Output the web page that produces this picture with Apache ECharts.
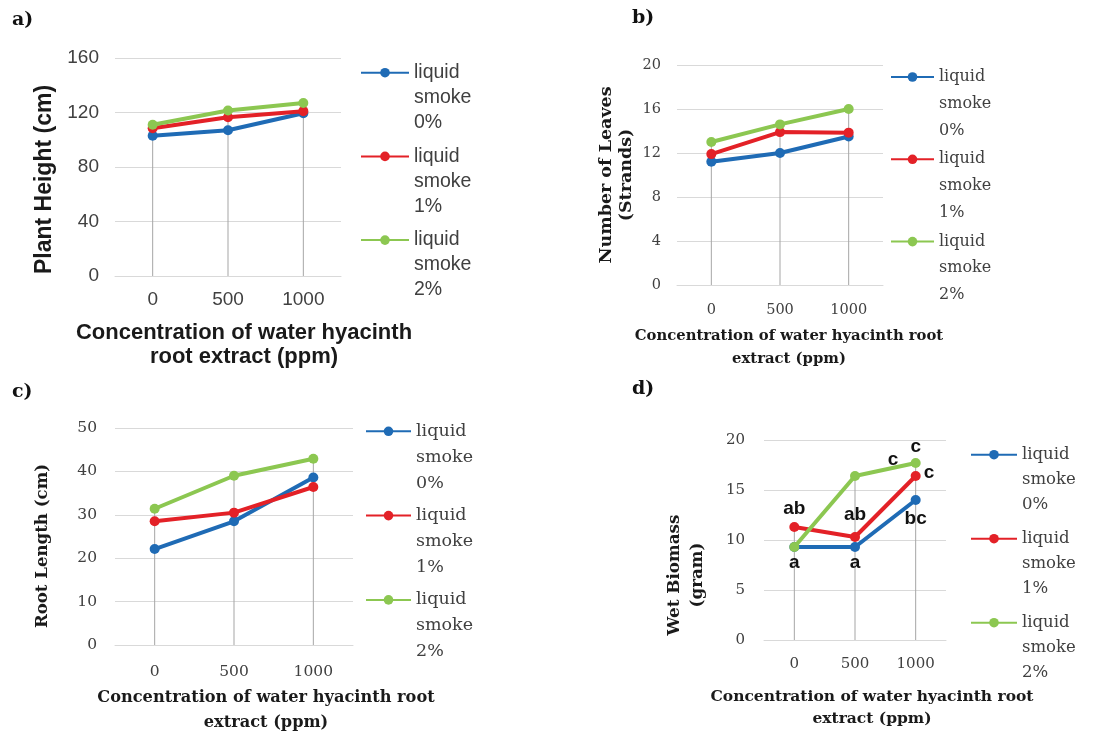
<!DOCTYPE html>
<html><head><meta charset="utf-8">
<script src="https://cdn.jsdelivr.net/npm/echarts@6/dist/echarts.min.js"></script>
<style>html,body{margin:0;padding:0;background:#fff}#c{width:1106px;height:736px}</style>
</head><body><div id="c"></div>
<script>
// ---- data ----
const categories = ['0', '500', '1000'];
const seriesNames = ['liquid smoke 0%', 'liquid smoke 1%', 'liquid smoke 2%'];
const panelLetters = ['a)', 'b)', 'c)', 'd)'];

// a) Plant height (cm)
const heightSmoke0 = [103, 107, 119.5];
const heightSmoke1 = [108.5, 116.5, 121];
const heightSmoke2 = [111, 121.5, 127];
// b) Number of leaves (strands)
const leavesSmoke0 = [11.2, 12.0, 13.5];
const leavesSmoke1 = [11.9, 13.9, 13.85];
const leavesSmoke2 = [13.0, 14.6, 16.0];
// c) Root length (cm)
const rootSmoke0 = [22.1, 28.5, 38.6];
const rootSmoke1 = [28.5, 30.5, 36.4];
const rootSmoke2 = [31.4, 39.0, 42.9];
// d) Wet biomass (gram)
const biomassSmoke0 = [9.3, 9.3, 14.0];
const biomassSmoke1 = [11.3, 10.3, 16.4];
const biomassSmoke2 = [9.3, 16.4, 17.7];
const biomassLetters0 = ['a', 'a', 'bc'];
const biomassLetters1 = ['ab', 'ab', 'c'];
const biomassLetters2 = ['', 'c', 'c'];

const xTitleA = 'Concentration of water hyacinth\nroot extract (ppm)';
const xTitleB = 'Concentration of water hyacinth root\nextract (ppm)';

// ---- styling / layout ----
const colors = ['#1f6bb5', '#e32127', '#8cc751'];
const SERIF = 'DejaVu Serif';
const SANS = 'Liberation Sans';

const panels = [
  { data: [heightSmoke0, heightSmoke1, heightSmoke2], yMax: 160, yInterval: 40,
    yTitle: 'Plant Height (cm)', xTitle: xTitleA,
    grid: { left: 115, top: 58, width: 226, height: 218 },
    font: SANS, tick: 19, xLabelMargin: 14, yLabelMargin: 16,
    xT: { size: 22, lh: 24, gap: 45, pad: 32 }, yT: { size: 23, lh: 24, gap: 58, pad: 25 },
    lg: { left: 360, first: 72.7, itemWidth: 48, size: 19.5, lh: 25, spacing: 83.7 },
    title: { left: 12, top: 11 } },
  { data: [leavesSmoke0, leavesSmoke1, leavesSmoke2], yMax: 20, yInterval: 4,
    yTitle: 'Number of Leaves\n(Strands)', xTitle: xTitleB,
    grid: { left: 677, top: 65, width: 206, height: 220 },
    font: SERIF, tick: 14.5, xLabelMargin: 18, yLabelMargin: 16,
    xT: { size: 14.8, lh: 23, gap: 40, pad: 18 }, yT: { size: 17.5, lh: 20, gap: 41, pad: 0 },
    lg: { left: 890, first: 77, itemWidth: 43, size: 16, lh: 26.7, spacing: 82.3 },
    title: { left: 632, top: 9 } },
  { data: [rootSmoke0, rootSmoke1, rootSmoke2], yMax: 50, yInterval: 10,
    yTitle: 'Root Length (cm)', xTitle: xTitleB,
    grid: { left: 115, top: 428, width: 238, height: 217 },
    font: SERIF, tick: 15.5, xLabelMargin: 19, yLabelMargin: 18,
    xT: { size: 16.2, lh: 25, gap: 40, pad: 64 }, yT: { size: 16.6, lh: 20, gap: 62, pad: 19 },
    lg: { left: 365, first: 431.3, itemWidth: 45, size: 17.5, lh: 25.9, spacing: 84.3 },
    title: { left: 12, top: 383 } },
  { data: [biomassSmoke0, biomassSmoke1, biomassSmoke2], yMax: 20, yInterval: 5,
    yTitle: 'Wet Biomass\n(gram)', xTitle: xTitleB,
    grid: { left: 764, top: 440, width: 182, height: 200 },
    font: SERIF, tick: 15, xLabelMargin: 17, yLabelMargin: 19,
    xT: { size: 15.5, lh: 22, gap: 46, pad: 34 }, yT: { size: 16.8, lh: 23, gap: 55, pad: 70 },
    lg: { left: 970, first: 454.7, itemWidth: 46, size: 16.5, lh: 25, spacing: 84 },
    title: { left: 632, top: 380 },
    letters: [biomassLetters0, biomassLetters1, biomassLetters2] }
];

// label placement for the letters in panel d (per series, per category)
const letterPlacement = [
  [{ position: 'bottom', distance: 1 }, { position: 'bottom', distance: 1 }, { position: 'bottom', distance: 4 }],
  [{ position: 'top', distance: 4 }, { position: 'top', distance: 8 }, { position: 'right', distance: 3, offset: [0, -3] }],
  [null, { position: 'top', distance: 5, offset: [38, 3] }, { position: 'top', distance: 2 }]
];

const option = {
  backgroundColor: '#ffffff',
  animation: false,
  title: [], grid: [], xAxis: [], yAxis: [], legend: [], series: []
};

panels.forEach((p, i) => {
  option.title.push({
    text: panelLetters[i], left: p.title.left, top: p.title.top, padding: 0,
    textStyle: { fontFamily: SERIF, fontWeight: 'bold', fontSize: 19, color: '#111' }
  });
  option.grid.push(Object.assign({ containLabel: false }, p.grid));
  option.xAxis.push({
    type: 'category', gridIndex: i, data: categories, boundaryGap: true,
    axisTick: { show: false },
    axisLine: { show: true, lineStyle: { color: '#d9d9d9', width: 1 } },
    axisLabel: { fontFamily: p.font, fontSize: p.tick, color: '#404040', margin: p.xLabelMargin },
    name: p.xTitle, nameLocation: 'middle', nameGap: p.xT.gap,
    nameTextStyle: { fontFamily: p.font, fontWeight: 'bold', fontSize: p.xT.size, lineHeight: p.xT.lh,
      color: '#1a1a1a', padding: [0, 0, 0, p.xT.pad] }
  });
  option.yAxis.push({
    type: 'value', gridIndex: i, min: 0, max: p.yMax, interval: p.yInterval,
    axisLine: { show: false }, axisTick: { show: false },
    splitLine: { show: true, lineStyle: { color: '#d9d9d9', width: 1 } },
    axisLabel: { fontFamily: p.font, fontSize: p.tick, color: '#404040', margin: p.yLabelMargin },
    name: p.yTitle, nameLocation: 'middle', nameGap: p.yT.gap,
    nameTextStyle: { fontFamily: p.font, fontWeight: 'bold', fontSize: p.yT.size, lineHeight: p.yT.lh,
      color: '#1a1a1a', padding: [0, p.yT.pad, 0, 0] }
  });
  const lg = p.lg;
  option.legend.push({
    orient: 'vertical', left: lg.left, top: lg.first - 2.5 * lg.lh, padding: 0,
    itemWidth: lg.itemWidth, itemHeight: 12, itemGap: lg.spacing - 5 * lg.lh,
    data: seriesNames, selectedMode: false,
    // two empty leading lines so the icon sits level with the first text line
    formatter: n => '\n\n' + n.split(' ').join('\n'),
    textStyle: { fontFamily: p.font, fontSize: lg.size, lineHeight: lg.lh, color: '#404040' }
  });
  // drop lines: from axis up to the highest series value at each category
  option.series.push({
    type: 'bar', xAxisIndex: i, yAxisIndex: i, barWidth: 1, silent: true, z: 1,
    itemStyle: { color: '#a6a6a6' },
    data: categories.map((_, j) => Math.max(...p.data.map(s => s[j])))
  });
  p.data.forEach((vals, k) => {
    const data = vals.map((v, j) => {
      const txt = p.letters ? p.letters[k][j] : '';
      if (!txt) return v;
      const pl = letterPlacement[k][j];
      return { value: v, label: Object.assign({ show: true, formatter: txt,
        fontFamily: SANS, fontWeight: 'bold', fontSize: 19, color: '#111' }, pl) };
    });
    option.series.push({
      type: 'line', name: seriesNames[k], xAxisIndex: i, yAxisIndex: i, z: 3 + k,
      data, symbol: 'circle', symbolSize: 10, showAllSymbol: true,
      lineStyle: { color: colors[k], width: 4 },
      itemStyle: { color: colors[k] },
      label: { show: false }
    });
  });
});

const chart = echarts.init(document.getElementById('c'), null, { renderer: 'canvas' });
chart.setOption(option);
</script></body></html>
